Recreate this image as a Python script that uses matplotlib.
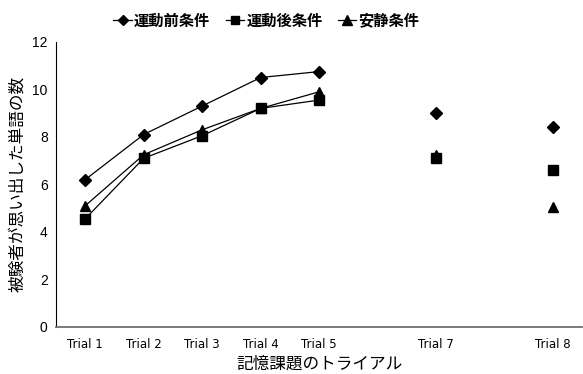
import matplotlib
matplotlib.use("Agg")
import matplotlib.pyplot as plt
import numpy as np

plt.rcParams['font.family'] = ['Noto Sans CJK JP', 'DejaVu Sans']

# 試行 (Trial 6 は欠番なので位置だけ空ける)
trials = ['Trial 1', 'Trial 2', 'Trial 3', 'Trial 4', 'Trial 5', 'Trial 7', 'Trial 8']
pos = [0, 1, 2, 3, 4, 6, 8]

mae = [6.2, 8.1, 9.3, 10.5, 10.75, 9.0, 8.4]      # 運動前条件
ato = [4.55, 7.1, 8.05, 9.2, 9.55, 7.1, 6.6]      # 運動後条件
ansei = [5.1, 7.25, 8.3, 9.2, 9.9, 7.25, 5.05]    # 安静条件

fig = plt.figure(figsize=(5.83, 3.74), dpi=100)
ax = fig.add_axes([0.096, 0.126, 0.903, 0.762])

series = [(mae, 'D', 6, '運動前条件'), (ato, 's', 6.5, '運動後条件'), (ansei, '^', 7.5, '安静条件')]
handles = []
for vals, mk, ms, name in series:
    # Trial 1-5 は線でつなぎ、7 と 8 は点だけ
    ax.plot(pos[:5], vals[:5], color='black', lw=0.9)
    ax.plot(pos[5:], vals[5:], linestyle='none', marker=mk, ms=ms, color='black')
    ax.plot(pos[:5], vals[:5], linestyle='none', marker=mk, ms=ms, color='black')
    h, = ax.plot([], [], color='black', lw=0.9, marker=mk, ms=ms - 1, label=name)
    handles.append(h)

ax.set_xlim(-0.5, 8.5)
ax.set_ylim(0, 12)
ax.set_yticks(range(0, 13, 2))
ax.set_xticks(pos)
ax.set_xticklabels(trials, fontfamily='DejaVu Sans', fontsize=8.5)
for t in ax.get_yticklabels():
    t.set_fontfamily('Liberation Sans')
    t.set_fontsize(10)
ax.tick_params(length=0, pad=6)
ax.tick_params(axis='x', pad=8)

for s in ['top', 'right']:
    ax.spines[s].set_visible(False)
ax.spines['left'].set_color('black')
ax.spines['bottom'].set_color('#707070')
ax.spines['bottom'].set_linewidth(1.3)

ax.set_ylabel('被験者が思い出した単語の数', fontsize=12, labelpad=4)
# x 軸ラベルは位置を固定して置く
fig.text(0.5475, 0.026, '記憶課題のトライアル', fontsize=12, ha='center', va='center')

fig.legend(handles=handles, loc='center', bbox_to_anchor=(0.457, 0.945), ncol=3,
           frameon=False, handlelength=1.2, handletextpad=0.15, columnspacing=1.0,
           prop={'size': 11, 'weight': 'bold'})

fig.savefig('out.png', dpi=100)
